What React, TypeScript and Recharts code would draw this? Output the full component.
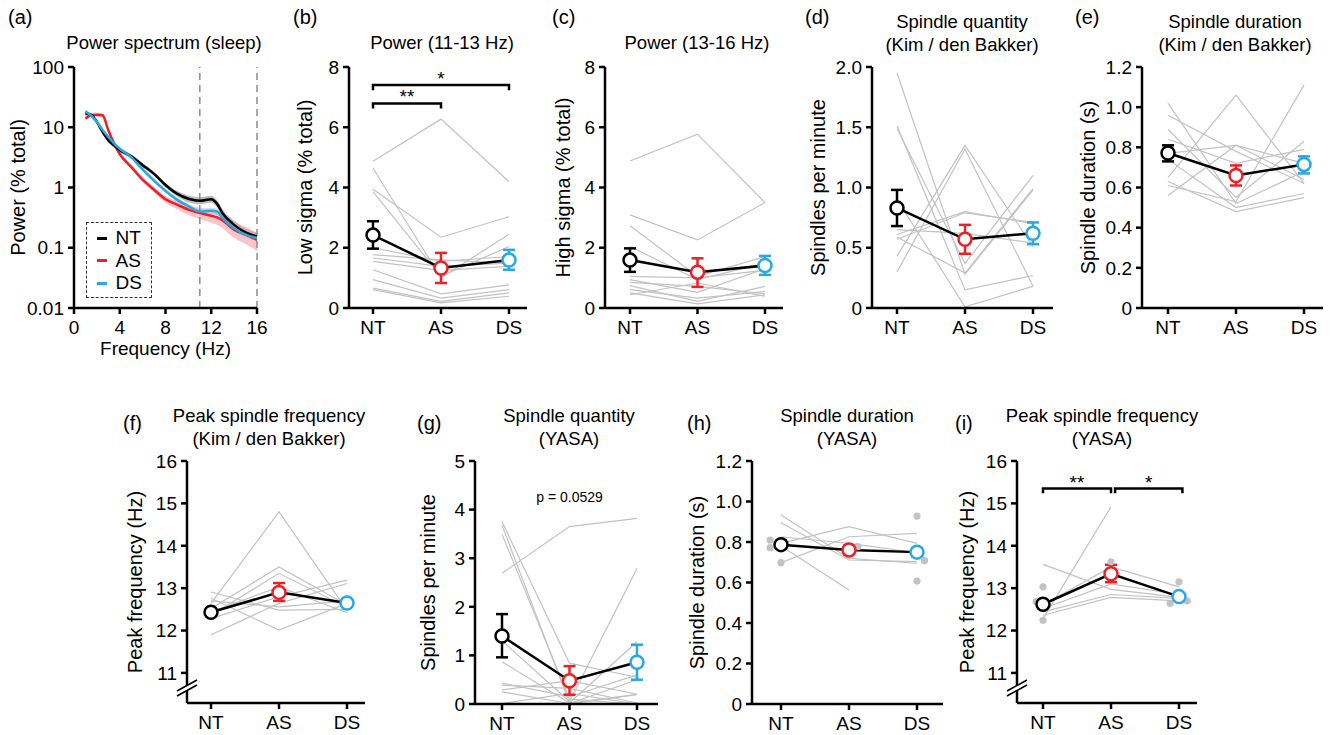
import React from "react";
import {
  ComposedChart,
  Line,
  Area,
  Scatter,
  XAxis,
  YAxis,
  ErrorBar,
  ReferenceLine,
  ReferenceDot,
} from "recharts";

const FONT = '"Liberation Sans", Arial, Helvetica, sans-serif';
const GRAY = "#c2c2c2";
const PAD_TOP = 20;
const PAD_RIGHT = 8;
const X_H = 56;

const groups = ["NT", "AS", "DS"];
const groupColors = ["#000000", "#ec2027", "#27a9e1"];
const bandColors = ["#8c8c8c", "#f3a0a7", "#9fd6f0"];

// (a) power spectrum, % total power
const freqs = [1, 1.5, 2, 2.5, 3, 3.5, 4, 5, 6, 7, 8, 9, 10, 11, 12, 12.5, 13, 14, 15, 16];
const ntPower = [16.9, 16.0, 12.3, 8.4, 6.1, 5.0, 4.2, 3.3, 2.35, 1.68, 1.1, 0.79, 0.65, 0.6, 0.64, 0.54, 0.37, 0.24, 0.18, 0.155];
const ntLow = [15.5, 14.8, 11.3, 7.7, 5.6, 4.6, 3.85, 3.05, 2.17, 1.55, 1.0, 0.71, 0.57, 0.53, 0.56, 0.47, 0.32, 0.21, 0.155, 0.135];
const ntHigh = [18.3, 17.2, 13.3, 9.1, 6.6, 5.4, 4.55, 3.55, 2.55, 1.82, 1.2, 0.88, 0.74, 0.69, 0.73, 0.62, 0.43, 0.28, 0.21, 0.178];
const asPower = [14.0, 15.9, 16.2, 15.8, 8.9, 5.4, 3.6, 2.2, 1.35, 0.92, 0.64, 0.52, 0.43, 0.375, 0.34, 0.32, 0.285, 0.2, 0.165, 0.135];
const asLow = [12.8, 14.6, 15.0, 14.6, 8.1, 4.9, 3.3, 2.0, 1.22, 0.82, 0.56, 0.44, 0.35, 0.3, 0.26, 0.24, 0.21, 0.145, 0.115, 0.088];
const asHigh = [15.3, 17.2, 17.5, 17.0, 9.7, 5.9, 3.9, 2.4, 1.48, 1.02, 0.72, 0.6, 0.51, 0.46, 0.43, 0.41, 0.37, 0.27, 0.22, 0.175];
const dsPower = [18.5, 15.5, 12.3, 9.0, 6.9, 5.4, 4.4, 3.2, 2.0, 1.3, 0.88, 0.63, 0.49, 0.4, 0.41, 0.4, 0.31, 0.21, 0.165, 0.145];
const dsLow = [17.2, 14.4, 11.4, 8.3, 6.4, 5.0, 4.1, 2.95, 1.85, 1.2, 0.81, 0.58, 0.45, 0.37, 0.37, 0.36, 0.28, 0.19, 0.15, 0.13];
const dsHigh = [19.8, 16.6, 13.2, 9.7, 7.4, 5.8, 4.7, 3.45, 2.15, 1.4, 0.95, 0.68, 0.53, 0.44, 0.46, 0.45, 0.35, 0.23, 0.18, 0.16];

// (b) low sigma power, one row per animal: NT, AS, DS
const bSubjects = [
  [4.87, 6.27, 4.19],
  [3.94, 2.35, 3.03],
  [4.64, 1.0, 2.45],
  [3.86, 1.05, 2.04],
  [2.0, 1.55, 1.71],
  [1.77, 1.6, 1.49],
  [1.66, 1.38, 1.49],
  [1.55, 1.25, 1.38],
  [1.27, 0.47, 0.77],
  [0.94, 0.33, 0.61],
  [0.66, 0.22, 0.5],
  [0.61, 0.17, 0.39],
];
const bMean = [2.42, 1.33, 1.59];
const bLow = [1.97, 0.83, 1.27];
const bHigh = [2.88, 1.83, 1.93];
const bBrackets = [
  { from: 0, to: 1, y: 6.79, drop: 0.17, text: "**" },
  { from: 0, to: 2, y: 7.4, drop: 0.17, text: "*" },
];

// (c) high sigma power
const cSubjects = [
  [4.88, 5.77, 3.5],
  [3.09, 2.26, 3.5],
  [2.73, 1.05, 1.71],
  [2.04, 0.94, 1.49],
  [1.05, 1.0, 1.25],
  [0.94, 0.52, 1.3],
  [0.85, 0.72, 0.47],
  [0.74, 0.22, 0.72],
  [0.61, 0.33, 0.55],
  [0.5, 0.14, 0.44],
  [0.44, 0.83, 0.39],
];
const cMean = [1.59, 1.19, 1.41];
const cLow = [1.2, 0.7, 1.1];
const cHigh = [1.98, 1.65, 1.73];

// (d) spindle quantity, Kim / den Bakker
const dSubjects = [
  [1.95, 0.28, 0.98],
  [1.51, 0.15, 0.27],
  [1.49, 0.37, 1.1],
  [0.9, 0.01, 0.18],
  [0.61, 0.8, 0.7],
  [0.59, 0.29, 0.99],
  [0.57, 0.79, 0.71],
  [0.43, 1.35, 0.51],
  [0.3, 1.32, 0.18],
  [0.65, 0.62, 0.54],
];
const dMean = [0.83, 0.57, 0.62];
const dLow = [0.68, 0.45, 0.53];
const dHigh = [0.98, 0.69, 0.71];

// (e) spindle duration, Kim / den Bakker
const eSubjects = [
  [1.02, 0.52, 0.68],
  [0.96, 0.78, 0.62],
  [0.89, 0.55, 0.83],
  [0.84, 0.72, 0.79],
  [0.77, 0.81, 0.72],
  [0.74, 0.5, 0.57],
  [0.65, 1.06, 0.62],
  [0.63, 0.48, 0.55],
  [0.61, 0.53, 1.11],
  [0.56, 0.81, 0.64],
];
const eMean = [0.772, 0.66, 0.715];
const eLow = [0.73, 0.61, 0.67];
const eHigh = [0.81, 0.71, 0.755];

// (f) peak spindle frequency, Kim / den Bakker
const fSubjects = [
  [12.64, 14.8, 12.48],
  [12.76, 12.01, 12.64],
  [12.91, 12.48, 12.5],
  [12.52, 13.5, 12.6],
  [12.36, 13.35, 12.55],
  [12.28, 12.8, 13.19],
  [11.9, 12.64, 13.11],
  [12.44, 13.03, 12.42],
  [12.7, 12.56, 12.7],
];
const fMean = [12.43, 12.9, 12.65];
const fLow = [12.38, 12.7, 12.6];
const fHigh = [12.48, 13.12, 12.7];

// (g) spindle quantity, YASA
const gSubjects = [
  [2.69, 3.65, 3.82],
  [3.75, 0.84, 0.55],
  [3.68, 0.02, 0.2],
  [3.49, 0.1, 0.0],
  [1.3, 0.05, 2.79],
  [0.87, 0.02, 1.28],
  [0.43, 0.15, 0.6],
  [0.39, 0.32, 0.02],
  [0.29, 0.48, 0.2],
  [0.25, 0.01, 0.5],
  [0.01, 0.22, 0.0],
  [0.0, 0.0, 0.19],
];
const gMean = [1.4, 0.48, 0.86];
const gLow = [0.96, 0.19, 0.5];
const gHigh = [1.85, 0.78, 1.22];

// (h) spindle duration, YASA
const hSubjects = [
  [0.933, 0.719, 0.695],
  [0.895, 0.711, 0.703],
  [0.826, 0.793, 0.747],
  [0.793, 0.876, 0.793],
  [0.698, 0.826, 0.843],
  [0.78, 0.563, null],
];
const hDots = [
  { g: 0, dx: -0.16, v: 0.81 },
  { g: 0, dx: -0.16, v: 0.772 },
  { g: 0, dx: 0, v: 0.698 },
  { g: 1, dx: 0.13, v: 0.777 },
  { g: 2, dx: 0, v: 0.928 },
  { g: 2, dx: 0.11, v: 0.708 },
  { g: 2, dx: 0, v: 0.607 },
];
const hMean = [0.787, 0.761, 0.75];
const hLow = [0.77, 0.74, 0.73];
const hHigh = [0.805, 0.782, 0.77];

// (i) peak spindle frequency, YASA
const iSubjects = [
  [12.28, 14.92, null],
  [13.56, 12.97, 12.78],
  [12.6, 13.5, 13.03],
  [12.52, 13.1, 12.85],
  [12.44, 12.85, 12.76],
  [12.36, 12.78, 12.7],
];
const iDots = [
  { g: 0, dx: 0, v: 13.03 },
  { g: 0, dx: -0.1, v: 12.68 },
  { g: 0, dx: 0, v: 12.24 },
  { g: 1, dx: 0, v: 13.62 },
  { g: 2, dx: 0, v: 13.15 },
  { g: 2, dx: -0.13, v: 12.64 },
  { g: 2, dx: 0.12, v: 12.7 },
];
const iMean = [12.62, 13.34, 12.8];
const iLow = [12.56, 13.14, 12.75];
const iHigh = [12.68, 13.55, 12.85];
const iBrackets = [
  { from: 0, to: 1, y: 15.35, drop: 0.11, text: "**" },
  { from: 1.06, to: 2.05, y: 15.35, drop: 0.11, text: "*" },
];

const axisProps = {
  axisLine: { stroke: "#000", strokeWidth: 2.5 },
  tickLine: { stroke: "#000", strokeWidth: 2.5 },
  tickSize: 6,
  tick: { fill: "#000", fontSize: 19 },
  allowDataOverflow: true,
  interval: 0 as const,
};

type Box = { left: number; top: number; right: number; bottom: number };
type Bracket = { from: number; to: number; y: number; drop: number; text: string };
type GrayDot = { g: number; dx: number; v: number };

const oneDec = (v: number) => (v === 0 ? "0" : v.toFixed(1));

function yLabel(value: string) {
  return { value, angle: -90, position: "center" as const, fill: "#000", fontSize: 20 };
}

function GroupPanel(p: {
  box: Box;
  ntPx: number;
  dsPx: number;
  labelDist: number;
  yDomain: [number, number];
  yTicks: number[];
  yFmt?: (v: number) => string;
  yTitle: string;
  subjects: (number | null)[][];
  mean: number[];
  low: number[];
  high: number[];
  dots?: GrayDot[];
  brackets?: Bracket[];
  note?: { text: string; x: number; y: number };
}) {
  const { box } = p;
  const unit = (p.dsPx - p.ntPx) / 2;
  const xDomain: [number, number] = [(box.left - p.ntPx) / unit, 2 + (box.right - p.dsPx) / unit];
  const yw = p.labelDist * 2;
  const rows = groups.map((g, k) => {
    const row: Record<string, number | null> = { x: k, mean: p.mean[k] };
    p.subjects.forEach((s, i) => {
      row[`s${i}`] = s[k];
    });
    return row;
  });
  return (
    <div style={{ position: "absolute", left: box.left - yw, top: box.top - PAD_TOP }}>
      <ComposedChart
        width={box.right - box.left + yw + PAD_RIGHT}
        height={box.bottom - box.top + PAD_TOP + X_H}
        data={rows}
        margin={{ top: PAD_TOP, right: PAD_RIGHT, bottom: 0, left: 0 }}
      >
        <XAxis
          type="number"
          dataKey="x"
          domain={xDomain}
          ticks={[0, 1, 2]}
          tickFormatter={(v: number) => groups[v]}
          height={X_H}
          tickMargin={7}
          {...axisProps}
        />
        <YAxis
          type="number"
          dataKey="y"
          domain={p.yDomain}
          ticks={p.yTicks}
          tickFormatter={p.yFmt}
          width={yw}
          tickMargin={4}
          label={yLabel(p.yTitle)}
          {...axisProps}
        />
        {p.subjects.map((_, i) => (
          <Line
            key={i}
            dataKey={`s${i}`}
            stroke={GRAY}
            strokeWidth={1.2}
            dot={false}
            activeDot={false}
            isAnimationActive={false}
          />
        ))}
        {p.dots && (
          <Scatter
            data={p.dots.map((d) => ({ x: d.g + d.dx, y: d.v }))}
            dataKey="y"
            fill={GRAY}
            shape={(s: any) => <circle cx={s.cx} cy={s.cy} r={3.6} fill={GRAY} />}
            isAnimationActive={false}
          />
        )}
        <Line
          dataKey="mean"
          stroke="#000"
          strokeWidth={2.5}
          dot={false}
          activeDot={false}
          isAnimationActive={false}
        />
        {groups.map((g, k) => (
          <Scatter
            key={g}
            data={[{ x: k, y: p.mean[k], err: [p.mean[k] - p.low[k], p.high[k] - p.mean[k]] }]}
            dataKey="y"
            shape={(s: any) => (
              <circle cx={s.cx} cy={s.cy} r={6.5} fill="#fff" stroke={groupColors[k]} strokeWidth={2.5} />
            )}
            isAnimationActive={false}
          >
            <ErrorBar dataKey="err" direction="y" width={6} stroke={groupColors[k]} strokeWidth={2.5} />
          </Scatter>
        ))}
        {(p.brackets || []).map((b, i) => (
          <Line
            key={`br${i}`}
            data={[
              { x: b.from, y: b.y - b.drop },
              { x: b.from, y: b.y },
              { x: b.to, y: b.y },
              { x: b.to, y: b.y - b.drop },
            ]}
            dataKey="y"
            type="linear"
            stroke="#000"
            strokeWidth={2.5}
            dot={false}
            activeDot={false}
            isAnimationActive={false}
          />
        ))}
        {(p.brackets || []).map((b, i) => (
          <ReferenceDot
            key={`st${i}`}
            x={(b.from + b.to) / 2}
            y={b.y}
            r={0}
            stroke="none"
            label={{ value: b.text, position: "top", offset: 0, fontSize: 19, fill: "#000" }}
          />
        ))}
        {p.note && (
          <ReferenceDot
            x={p.note.x}
            y={p.note.y}
            r={0}
            stroke="none"
            label={{ value: p.note.text, position: "center", fontSize: 14, fill: "#000" }}
          />
        )}
      </ComposedChart>
    </div>
  );
}

function SpectrumPanel() {
  const box = { left: 74, top: 67, right: 257, bottom: 308 };
  const yw = 112;
  const rows = freqs.map((f, i) => ({
    f,
    nt: ntPower[i],
    as: asPower[i],
    ds: dsPower[i],
    ntBand: [ntLow[i], ntHigh[i]],
    asBand: [asLow[i], asHigh[i]],
    dsBand: [dsLow[i], dsHigh[i]],
  }));
  const keys = ["nt", "as", "ds"];
  return (
    <div style={{ position: "absolute", left: box.left - yw, top: box.top - PAD_TOP }}>
      <ComposedChart
        width={box.right - box.left + yw + 20}
        height={box.bottom - box.top + PAD_TOP + X_H}
        data={rows}
        margin={{ top: PAD_TOP, right: 20, bottom: 0, left: 0 }}
      >
        <XAxis
          type="number"
          dataKey="f"
          domain={[0, 16]}
          ticks={[0, 4, 8, 12, 16]}
          height={X_H}
          tickMargin={7}
          label={{ value: "Frequency (Hz)", position: "insideBottom", offset: 9, fontSize: 19, fill: "#000" }}
          {...axisProps}
        />
        <YAxis
          type="number"
          scale="log"
          domain={[0.01, 100]}
          ticks={[0.01, 0.1, 1, 10, 100]}
          tickFormatter={(v: number) => String(v)}
          width={yw}
          tickMargin={4}
          label={yLabel("Power (% total)")}
          {...axisProps}
        />
        <ReferenceLine x={11} stroke="#8a8a8a" strokeWidth={1.5} strokeDasharray="7 5" />
        <ReferenceLine x={16} stroke="#8a8a8a" strokeWidth={1.5} strokeDasharray="7 5" />
        {[2, 0, 1].map((k) => (
          <Area
            key={`band${k}`}
            dataKey={`${keys[k]}Band`}
            type="monotone"
            stroke="none"
            fill={bandColors[k]}
            fillOpacity={k === 0 ? 0.6 : 0.6}
            activeDot={false}
            isAnimationActive={false}
          />
        ))}
        {[1, 0, 2].map((k) => (
          <Line
            key={keys[k]}
            dataKey={keys[k]}
            type="monotone"
            stroke={groupColors[k]}
            strokeWidth={2.5}
            dot={false}
            activeDot={false}
            isAnimationActive={false}
          />
        ))}
      </ComposedChart>
    </div>
  );
}

function AxisBreak({ x, y }: { x: number; y: number }) {
  return (
    <svg style={{ position: "absolute", left: x - 12, top: y - 12 }} width={24} height={24}>
      <polygon points="2,20 22,9 22,4 2,15" fill="#fff" />
      <line x1={2} y1={20} x2={22} y2={9} stroke="#000" strokeWidth={1.6} />
      <line x1={2} y1={15} x2={22} y2={4} stroke="#000" strokeWidth={1.6} />
    </svg>
  );
}

const titles = [
  { lines: ["Power spectrum (sleep)"], cx: 164, y: 43 },
  { lines: ["Power (11-13 Hz)"], cx: 442, y: 43 },
  { lines: ["Power (13-16 Hz)"], cx: 697, y: 43 },
  { lines: ["Spindle quantity", "(Kim / den Bakker)"], cx: 962, y: 22 },
  { lines: ["Spindle duration", "(Kim / den Bakker)"], cx: 1235, y: 22 },
  { lines: ["Peak spindle frequency", "(Kim / den Bakker)"], cx: 269, y: 416 },
  { lines: ["Spindle quantity", "(YASA)"], cx: 569, y: 416 },
  { lines: ["Spindle duration", "(YASA)"], cx: 847, y: 416 },
  { lines: ["Peak spindle frequency", "(YASA)"], cx: 1102, y: 416 },
];

const letters = [
  { t: "(a)", x: 8, y: 17 },
  { t: "(b)", x: 293, y: 17 },
  { t: "(c)", x: 552, y: 17 },
  { t: "(d)", x: 805, y: 17 },
  { t: "(e)", x: 1075, y: 17 },
  { t: "(f)", x: 123, y: 423 },
  { t: "(g)", x: 417, y: 423 },
  { t: "(h)", x: 687, y: 423 },
  { t: "(i)", x: 955, y: 423 },
];

export default function App() {
  return (
    <div
      style={{
        position: "absolute",
        left: 0,
        top: 0,
        width: 1331,
        height: 735,
        overflow: "hidden",
        background: "#fff",
        fontFamily: FONT,
        color: "#000",
      }}
    >
      <SpectrumPanel />
      <GroupPanel
        box={{ left: 349, top: 67, right: 527, bottom: 308 }}
        ntPx={373}
        dsPx={509}
        labelDist={44}
        yDomain={[0, 8]}
        yTicks={[0, 2, 4, 6, 8]}
        yTitle="Low sigma (% total)"
        subjects={bSubjects}
        mean={bMean}
        low={bLow}
        high={bHigh}
        brackets={bBrackets}
      />
      <GroupPanel
        box={{ left: 605, top: 67, right: 783, bottom: 308 }}
        ntPx={630}
        dsPx={765}
        labelDist={42}
        yDomain={[0, 8]}
        yTicks={[0, 2, 4, 6, 8]}
        yTitle="High sigma (% total)"
        subjects={cSubjects}
        mean={cMean}
        low={cLow}
        high={cHigh}
      />
      <GroupPanel
        box={{ left: 872, top: 67, right: 1053, bottom: 308 }}
        ntPx={897}
        dsPx={1033}
        labelDist={54}
        yDomain={[0, 2]}
        yTicks={[0, 0.5, 1, 1.5, 2]}
        yFmt={oneDec}
        yTitle="Spindles per minute"
        subjects={dSubjects}
        mean={dMean}
        low={dLow}
        high={dHigh}
      />
      <GroupPanel
        box={{ left: 1142, top: 67, right: 1323, bottom: 308 }}
        ntPx={1168}
        dsPx={1304}
        labelDist={54}
        yDomain={[0, 1.2]}
        yTicks={[0, 0.2, 0.4, 0.6, 0.8, 1.0, 1.2]}
        yFmt={oneDec}
        yTitle="Spindle duration (s)"
        subjects={eSubjects}
        mean={eMean}
        low={eLow}
        high={eHigh}
      />
      <GroupPanel
        box={{ left: 187, top: 461, right: 365, bottom: 703 }}
        ntPx={211}
        dsPx={347}
        labelDist={52}
        yDomain={[10.29, 16]}
        yTicks={[11, 12, 13, 14, 15, 16]}
        yTitle="Peak frequency (Hz)"
        subjects={fSubjects}
        mean={fMean}
        low={fLow}
        high={fHigh}
      />
      <GroupPanel
        box={{ left: 475, top: 461, right: 658, bottom: 704 }}
        ntPx={502}
        dsPx={637}
        labelDist={47}
        yDomain={[0, 5]}
        yTicks={[0, 1, 2, 3, 4, 5]}
        yTitle="Spindles per minute"
        subjects={gSubjects}
        mean={gMean}
        low={gLow}
        high={gHigh}
        note={{ text: "p = 0.0529", x: 1, y: 4.26 }}
      />
      <GroupPanel
        box={{ left: 752, top: 461, right: 943, bottom: 704 }}
        ntPx={781}
        dsPx={917}
        labelDist={55}
        yDomain={[0, 1.2]}
        yTicks={[0, 0.2, 0.4, 0.6, 0.8, 1.0, 1.2]}
        yFmt={oneDec}
        yTitle="Spindle duration (s)"
        subjects={hSubjects}
        mean={hMean}
        low={hLow}
        high={hHigh}
        dots={hDots}
      />
      <GroupPanel
        box={{ left: 1017, top: 461, right: 1197, bottom: 703 }}
        ntPx={1043}
        dsPx={1179}
        labelDist={50}
        yDomain={[10.29, 16]}
        yTicks={[11, 12, 13, 14, 15, 16]}
        yTitle="Peak frequency (Hz)"
        subjects={iSubjects}
        mean={iMean}
        low={iLow}
        high={iHigh}
        dots={iDots}
        brackets={iBrackets}
      />

      <AxisBreak x={187} y={688} />
      <AxisBreak x={1017} y={688} />

      {/* legend of panel (a) */}
      <div
        style={{
          position: "absolute",
          left: 86,
          top: 222,
          width: 66,
          height: 76,
          boxSizing: "border-box",
          border: "1.5px dashed #333",
          paddingTop: 4,
        }}
      >
        {groups.map((g, k) => (
          <div key={g} style={{ display: "flex", alignItems: "center", height: 22.5 }}>
            <div style={{ width: 10, height: 3, background: groupColors[k], marginLeft: 9.5, marginRight: 9 }} />
            <span style={{ fontSize: 19, lineHeight: "22px" }}>{g}</span>
          </div>
        ))}
      </div>

      {titles.map((t, i) =>
        t.lines.map((line, j) => (
          <div
            key={`${i}-${j}`}
            style={{
              position: "absolute",
              left: t.cx - 150,
              width: 300,
              top: t.y + j * 23 - 11,
              height: 22,
              lineHeight: "22px",
              textAlign: "center",
              fontSize: 18.5,
              whiteSpace: "nowrap",
            }}
          >
            {line}
          </div>
        ))
      )}
      {letters.map((l) => (
        <div
          key={l.t}
          style={{
            position: "absolute",
            left: l.x,
            top: l.y - 12,
            height: 24,
            lineHeight: "24px",
            fontSize: 20,
          }}
        >
          {l.t}
        </div>
      ))}
    </div>
  );
}
